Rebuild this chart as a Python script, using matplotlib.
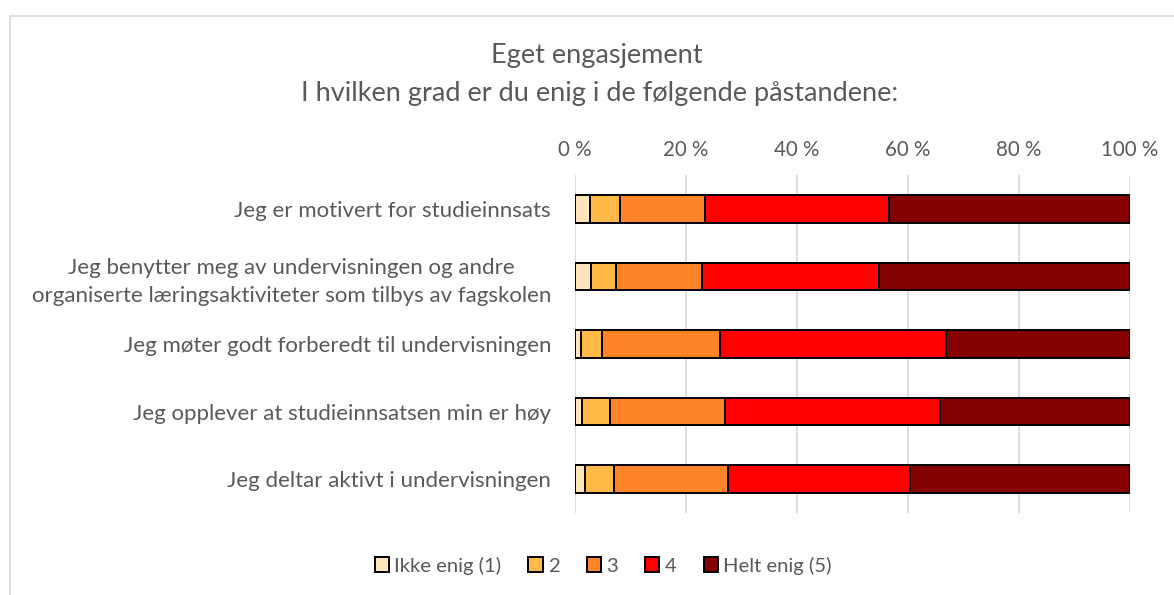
import matplotlib
matplotlib.use("Agg")
import matplotlib.pyplot as plt
from matplotlib.patches import Rectangle, Patch
import numpy as np

categories = [
    "Jeg er motivert for studieinnsats",
    "Jeg benytter meg av undervisningen og andre\norganiserte læringsaktiviteter som tilbys av fagskolen",
    "Jeg møter godt forberedt til undervisningen",
    "Jeg opplever at studieinnsatsen min er høy",
    "Jeg deltar aktivt i undervisningen",
]
series_names = ["Ikke enig (1)", "2", "3", "4", "Helt enig (5)"]
s1 = [2.8, 2.9, 1.1, 1.4, 1.8]
s2 = [5.3, 4.5, 3.8, 4.9, 5.3]
s3 = [15.3, 15.5, 21.3, 20.7, 20.5]
s4 = [33.3, 31.9, 40.7, 38.9, 32.9]
s5 = [43.3, 45.2, 33.1, 34.2, 39.5]
colors = ["#FFE5B9", "#FFB946", "#FF8427", "#FF0000", "#850000"]
xticks = [0, 20, 40, 60, 80, 100]
xticklabels = ["0 %", "20 %", "40 %", "60 %", "80 %", "100 %"]

plt.rcParams['font.family'] = ['Lato', 'DejaVu Sans']
txt = "#595959"

W, H = 1174, 595
fig = plt.figure(figsize=(W / 100, H / 100), dpi=100)
ax = fig.add_axes([574.7 / W, 1 - 512.75 / H, (1129.7 - 574.7) / W, (512.75 - 175.25) / H])

data = [s1, s2, s3, s4, s5]
y = np.arange(len(categories))
left = np.zeros(len(categories))
for name, vals, c in zip(series_names, data, colors):
    ax.barh(y, vals, left=left, height=0.41, color=c, edgecolor="black",
            linewidth=1.4, label=name, zorder=3)
    left += np.array(vals)

ax.set_xlim(0, 100)
ax.set_ylim(len(categories) - 0.5, -0.5)
ax.set_yticks(y)
ax.set_yticklabels(categories, fontsize=16, color=txt, ha="right",
                   multialignment="center", linespacing=1.45)
ax.set_xticks(xticks)
ax.set_xticklabels(xticklabels, fontsize=14.8, color=txt)
ax.xaxis.tick_top()
ax.tick_params(axis="both", length=0)
ax.tick_params(axis="x", pad=11)
ax.tick_params(axis="y", pad=17)
ax.grid(axis="x", color="#d9d9d9", linewidth=1.3, zorder=0)
for s in ax.spines.values():
    s.set_visible(False)

fig.text(597 / W, 1 - 55 / H, "Eget engasjement", ha="center", va="center",
         fontsize=19.5, color=txt)
fig.text(599.5 / W, 1 - 93 / H, "I hvilken grad er du enig i de følgende påstandene:",
         ha="center", va="center", fontsize=19.5, color=txt)

handles = [Patch(facecolor=c, edgecolor="black", linewidth=1.4) for c in colors]
fig.legend(handles, series_names, loc="center", bbox_to_anchor=(603 / W, 1 - 565.5 / H),
           ncol=5, frameon=False, fontsize=14.6, labelcolor=txt, handlelength=0.7,
           handleheight=0.7, handletextpad=0.25, columnspacing=1.35)

fig.patches.append(Rectangle((10 / W, -0.1), 1.2, 1 - 15.5 / H + 0.1,
                             transform=fig.transFigure, fill=False,
                             edgecolor="#d9d9d9", linewidth=1.2))

fig.savefig("out.png", dpi=100)
